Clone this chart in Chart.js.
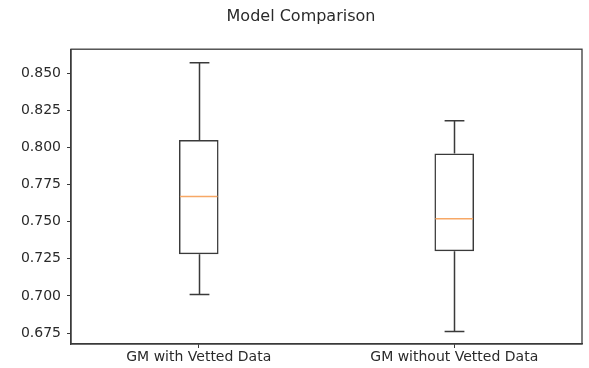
<!DOCTYPE html>
<html>
<head>
<meta charset="utf-8">
<script src="https://cdn.jsdelivr.net/npm/chart.js@4"></script>
<style>
  html, body { margin: 0; padding: 0; background: #fff; }
  canvas { display: block; }
</style>
</head>
<body>
<canvas id="chart" width="589" height="368"></canvas>
<script>
const categories = ['GM with Vetted Data', 'GM without Vetted Data'];
const whiskerLow = [0.701, 0.676];
const q1 = [0.728, 0.730];
const median = [0.767, 0.752];
const q3 = [0.805, 0.796];
const whiskerHigh = [0.857, 0.818];
const yTicks = [0.675, 0.700, 0.725, 0.750, 0.775, 0.800, 0.825, 0.850];

const lineColor = '#3a3a3a';
const textColor = '#2a2a2a';

// whiskers, caps, median + top/right frame
const boxExtras = {
  id: 'boxExtras',
  afterDatasetsDraw(chart) {
    const { ctx, chartArea, scales } = chart;
    const meta = chart.getDatasetMeta(0);
    const y = scales.y;
    ctx.save();
    meta.data.forEach((bar, i) => {
      const x = Math.round(bar.x) + 0.5;
      const capHalf = bar.width / 4;
      ctx.strokeStyle = lineColor;
      ctx.lineWidth = 1.5;
      ctx.beginPath();
      ctx.moveTo(x, y.getPixelForValue(q3[i]));
      ctx.lineTo(x, y.getPixelForValue(whiskerHigh[i]));
      ctx.moveTo(x, y.getPixelForValue(q1[i]));
      ctx.lineTo(x, y.getPixelForValue(whiskerLow[i]));
      ctx.moveTo(x - capHalf, y.getPixelForValue(whiskerHigh[i]));
      ctx.lineTo(x + capHalf, y.getPixelForValue(whiskerHigh[i]));
      ctx.moveTo(x - capHalf, y.getPixelForValue(whiskerLow[i]));
      ctx.lineTo(x + capHalf, y.getPixelForValue(whiskerLow[i]));
      ctx.stroke();
      ctx.strokeStyle = '#f7a866';
      ctx.lineWidth = 1.5;
      ctx.beginPath();
      ctx.moveTo(bar.x - bar.width / 2 + 1, y.getPixelForValue(median[i]));
      ctx.lineTo(bar.x + bar.width / 2 - 1, y.getPixelForValue(median[i]));
      ctx.stroke();
    });
    ctx.strokeStyle = lineColor;
    ctx.lineWidth = 1.3;
    ctx.strokeRect(chartArea.left, chartArea.top, chartArea.right - chartArea.left, chartArea.bottom - chartArea.top);
    ctx.restore();
  }
};

new Chart(document.getElementById('chart'), {
  type: 'bar',
  data: {
    labels: categories,
    datasets: [{
      data: categories.map((c, i) => [q1[i], q3[i]]),
      backgroundColor: 'rgba(255,255,255,0)',
      borderColor: lineColor,
      borderWidth: 1.5,
      borderSkipped: false,
      barPercentage: 0.155,
      categoryPercentage: 1
    }]
  },
  options: {
    responsive: false,
    animation: false,
    layout: { padding: { left: 20, right: 7, top: 0, bottom: 0 } },
    plugins: {
      legend: { display: false },
      tooltip: { enabled: false },
      title: {
        display: true,
        text: 'Model Comparison',
        color: textColor,
        font: { family: 'DejaVu Sans', size: 16, weight: 'normal' },
        padding: { top: 7, bottom: 23 }
      }
    },
    scales: {
      x: {
        grid: { drawOnChartArea: false, drawTicks: true, tickLength: 4, offset: false, color: lineColor },
        border: { display: true, color: lineColor, width: 1.3 },
        ticks: { color: textColor, font: { family: 'DejaVu Sans', size: 14 }, padding: 1, maxRotation: 0 },
        afterFit(axis) { axis.height = 24; }
      },
      y: {
        min: 0.6676,
        max: 0.8662,
        afterBuildTicks(axis) { axis.ticks = yTicks.map(v => ({ value: v })); },
        grid: { drawOnChartArea: false, drawTicks: true, tickLength: 4, color: lineColor },
        border: { display: true, color: lineColor, width: 1.3 },
        ticks: {
          color: textColor,
          font: { family: 'DejaVu Sans', size: 14 },
          padding: 6,
          callback: v => v.toFixed(3)
        },
        afterFit(axis) { axis.width = 51; }
      }
    }
  },
  plugins: [boxExtras]
});
</script>
</body>
</html>
